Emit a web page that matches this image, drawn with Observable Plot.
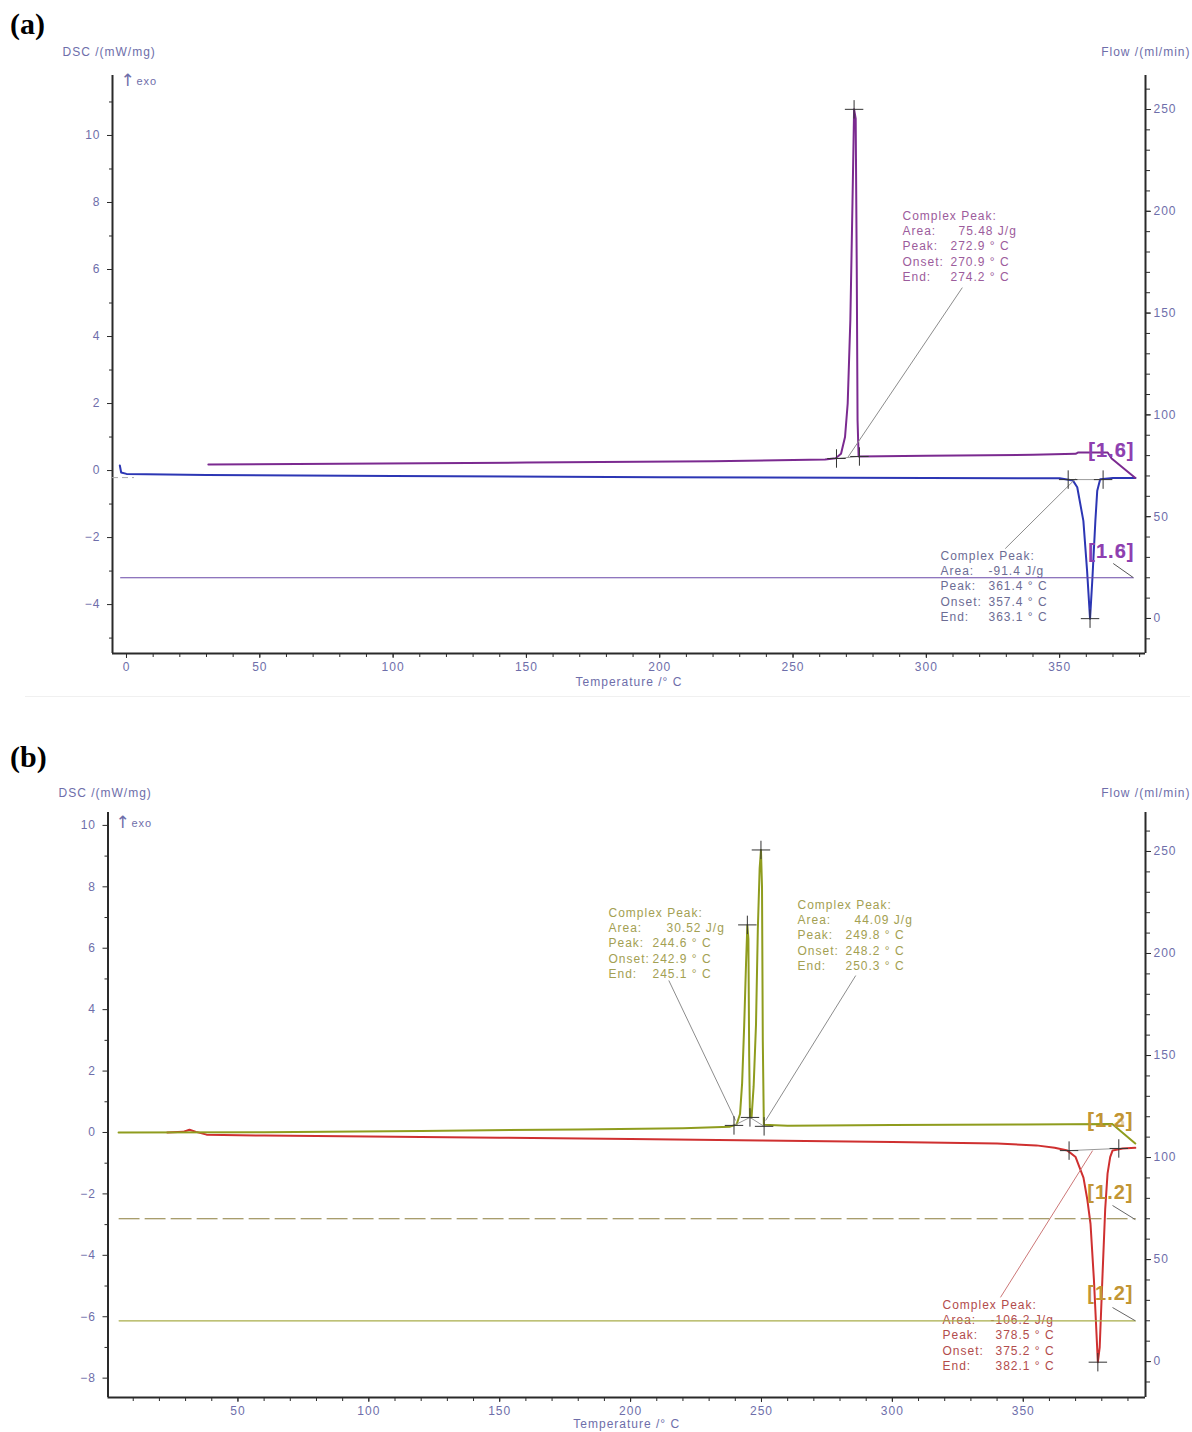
<!DOCTYPE html>
<html><head><meta charset="utf-8">
<script src="https://cdn.jsdelivr.net/npm/d3@7"></script>
<script src="https://cdn.jsdelivr.net/npm/@observablehq/plot@0.6"></script>
<style>
html,body{margin:0;padding:0;background:#fff}
body{width:1192px;height:1432px;position:relative;overflow:hidden;font-family:"Liberation Sans",Arial,sans-serif}
.panel{position:absolute;left:0;width:1192px}
.panel svg{position:absolute;left:0;top:0}
.panel svg text{letter-spacing:1px}
.panel svg g[aria-label="segment"] text{letter-spacing:-0.5px}
.tag{position:absolute;font-family:"Liberation Serif","Times New Roman",serif;font-weight:bold;font-size:30px;line-height:30px}
.sep{position:absolute;left:25px;width:1165px;top:696px;border-top:1px solid #f0f0f0}
</style></head><body>
<div class="tag" style="left:10px;top:9px">(a)</div>
<div class="tag" style="left:10px;top:742px">(b)</div>
<div class="sep"></div>
<div id="pa" class="panel" style="top:0;height:700px"></div>
<div id="pb" class="panel" style="top:700px;height:732px"></div>
<script>
// ================= DATA =================
// ---- panel (a) ----
const aXTicks = [0, 50, 100, 150, 200, 250, 300, 350];
const aYTicks = [-4, -2, 0, 2, 4, 6, 8, 10];
const aFlowTicks = [0, 50, 100, 150, 200, 250];
// exothermic run (purple): [temperature °C, DSC mW/mg]
const aExoCurve = [[30.7,0.18],[80,0.2],[150,0.24],[220,0.28],[262,0.33],[266,0.37],[268,0.5],[269.5,1.0],[270.5,2.0],[271.5,4.5],[272.3,8.0],[272.9,10.78],[273.5,10.5],[273.9,6.0],[274.2,1.5],[274.6,0.42],[300,0.44],[340,0.47],[356,0.5],[357,0.54],[368,0.54],[369.5,0.36],[378.4,-0.22]];
// endothermic run (blue)
const aEndoCurve = [[-2.5,0.15],[-2,-0.06],[0,-0.1],[30,-0.13],[100,-0.16],[200,-0.2],[300,-0.22],[350,-0.23],[355,-0.3],[356.6,-0.5],[358.9,-1.5],[360.3,-3.0],[361.4,-4.42],[362.3,-3.2],[363.4,-1.5],[364.1,-0.6],[365.2,-0.26],[370,-0.22],[378.4,-0.22]];
// purge gas flow (ml/min)
const aFlowCurve = [[-2.2,20],[377.6,20]];
const aExoLimits = [[266.3,0.36],[274.9,0.42]];
const aExoPeak = [[272.9,10.78]];
const aEndoLimits = [[353.2,-0.27],[366.3,-0.27]];
const aEndoPeak = [[361.4,-4.42]];
const noteLabels = ["Complex Peak:", "Area:", "Peak:", "Onset:", "End:"];
const aExoValues = ["75.48 J/g", "272.9 ° C", "270.9 ° C", "274.2 ° C"];
const aEndoValues = ["-91.4 J/g", "361.4 ° C", "357.4 ° C", "363.1 ° C"];
const aSegment = "[1.6]";
const aSegmentGhost = "[1.8]";

// ---- panel (b) ----
const bXTicks = [50, 100, 150, 200, 250, 300, 350];
const bYTicks = [-8, -6, -4, -2, 0, 2, 4, 6, 8, 10];
const bFlowTicks = [0, 50, 100, 150, 200, 250];
const bExoCurve = [[4.4,0.0],[60,0.01],[120,0.05],[180,0.1],[220,0.14],[238,0.19],[240.5,0.26],[241.8,0.6],[242.6,1.6],[243.4,3.5],[244.1,5.5],[244.6,6.75],[245.0,6.3],[245.3,2.5],[245.6,0.5],[246.2,0.48],[247.0,1.5],[247.9,3.5],[248.6,6.6],[249.3,8.6],[249.8,9.2],[250.2,8.0],[250.5,3.0],[250.9,0.25],[260,0.22],[300,0.24],[350,0.26],[384,0.28],[392.8,-0.36]];
const bEndoCurve = [[23,0],[29,0.02],[31.5,0.09],[34,0.02],[38,-0.07],[60,-0.1],[100,-0.13],[150,-0.17],[200,-0.21],[250,-0.26],[300,-0.31],[340,-0.36],[355,-0.42],[362,-0.5],[366.9,-0.59],[370,-0.8],[373,-1.47],[374.5,-2.2],[375.7,-2.98],[377.0,-4.8],[378.5,-7.48],[379.2,-7.0],[380.3,-4.6],[381.3,-2.5],[382.2,-1.34],[383.2,-0.8],[384.1,-0.59],[388,-0.52],[392.8,-0.5]];
const bFlowSolid = [[4.6,20],[392.8,20]];
const bFlowDashed = [[4.6,70],[392.8,70]];
const bExoLimits = [[239.5,0.23],[245.6,0.49],[251,0.2]];
const bExoPeaks = [[244.6,6.76],[249.8,9.2]];
const bEndoLimits = [[367.5,-0.59],[386.5,-0.52]];
const bEndoPeak = [[378.5,-7.48]];
const bPeak1Values = ["30.52 J/g", "244.6 ° C", "242.9 ° C", "245.1 ° C"];
const bPeak2Values = ["44.09 J/g", "249.8 ° C", "248.2 ° C", "250.3 ° C"];
const bEndoValues = ["-106.2 J/g", "378.5 ° C", "375.2 ° C", "382.1 ° C"];
const bSegment = "[1.2]";
const bSegmentGhost = "[1.3]";

// ================= STYLE =================
const FONT = '"Liberation Sans", Arial, sans-serif';
const axisColor = "#2a2a2a";
const tickColor = "#6e6eaa";
const leaderColor = "#8c8c8c";
const baseColor = "#9a9a9a";
const GAP = 15.4;

const X = d => d[0], Y = d => d[1];

function note(values, {x, y, color, vdx, adx}) {
  const marks = [];
  noteLabels.forEach((lab, i) => {
    marks.push(Plot.text([lab], {x: () => x, y: () => y, text: d => d, dy: (i - 2) * GAP, textAnchor: "start", fill: color, fontSize: 12}));
  });
  values.forEach((v, j) => {
    const i = j + 1;
    marks.push(Plot.text([v], {x: () => x, y: () => y, text: d => d, dx: i === 1 ? adx : vdx, dy: (i - 2) * GAP, textAnchor: "start", fill: color, fontSize: 12}));
  });
  return marks;
}
function leader(seg, color) {
  return Plot.link([seg], {x1: d => d[0], y1: d => d[1], x2: d => d[2], y2: d => d[3], stroke: color || leaderColor, strokeWidth: 1});
}
function segLabel(txt, ghost, x, y, color, ghostOpacity) {
  const m = [Plot.text([txt], {x: () => x, y: () => y, text: d => d, fontSize: 20, fontWeight: "bold", fill: color, ariaLabel: "segment"})];
  if (ghost) m.push(Plot.text([ghost], {x: () => x, y: () => y, text: d => d, fontSize: 20, fontWeight: "bold", fill: color, fillOpacity: ghostOpacity, ariaLabel: "segment"}));
  return m;
}
function crosses(data) {
  return Plot.dot(data, {x: X, y: Y, symbol: "plus", r: 6, stroke: "#333", strokeWidth: 1});
}

function buildPanel(el, cfg) {
  const base = {
    width: 1192, height: cfg.height,
    marginTop: cfg.mt, marginBottom: cfg.mb, marginLeft: cfg.ml, marginRight: cfg.mr,
    style: {background: "none", fontFamily: FONT, fontSize: "12px", overflow: "visible"}
  };
  const dsc = Plot.plot({
    ...base,
    x: {domain: cfg.xDomain},
    y: {domain: cfg.yDomain},
    marks: [
      Plot.axisX(cfg.xMinor, {tickSize: 4, fill: "none", stroke: axisColor, label: null}),
      Plot.axisX(cfg.xTicks, {tickSize: 5, tickPadding: 4, stroke: axisColor, fill: tickColor, label: null}),
      Plot.axisY(cfg.yMinor, {tickSize: 3, fill: "none", stroke: axisColor, label: null}),
      Plot.axisY(cfg.yTicks, {tickSize: 5, tickPadding: 7, stroke: axisColor, fill: tickColor, label: null}),
      Plot.ruleX([cfg.xDomain[0], cfg.xDomain[1]], {stroke: axisColor, strokeWidth: 2}),
      Plot.ruleY([cfg.yDomain[0]], {stroke: axisColor, strokeWidth: 2}),
      Plot.text(["DSC /(mW/mg)"], {frameAnchor: "top-left", lineAnchor: "middle", text: d => d, dx: cfg.dscDx, dy: cfg.dscDy, textAnchor: "start", fill: tickColor, fontSize: 12}),
      Plot.text(["↑"], {frameAnchor: "top-left", lineAnchor: "middle", text: d => d, dx: cfg.exoDx, dy: cfg.exoDy, textAnchor: "start", fill: tickColor, fontSize: 17, fontFamily: "DejaVu Sans"}),
      Plot.text(["exo"], {frameAnchor: "top-left", lineAnchor: "middle", text: d => d, dx: cfg.exoDx + 16, dy: cfg.exoDy + 1, textAnchor: "start", fill: tickColor, fontSize: 11}),
      Plot.text(["Flow /(ml/min)"], {frameAnchor: "top-right", lineAnchor: "middle", text: d => d, dx: 45, dy: cfg.dscDy, textAnchor: "end", fill: tickColor, fontSize: 12}),
      Plot.text(["Temperature /° C"], {frameAnchor: "bottom", lineAnchor: "middle", text: d => d, dy: cfg.tempDy, fill: tickColor, fontSize: 12}),
      ...cfg.dscMarks
    ]
  });
  const flow = Plot.plot({
    ...base,
    x: {domain: cfg.xDomain, axis: null},
    y: {domain: cfg.fDomain},
    marks: [
      Plot.axisY(cfg.fMinor, {anchor: "right", tickSize: 4, fill: "none", stroke: axisColor, label: null}),
      Plot.axisY(cfg.fTicks, {anchor: "right", tickSize: 5, tickPadding: 3, stroke: axisColor, fill: tickColor, label: null}),
      ...cfg.flowMarks
    ]
  });
  el.appendChild(dsc);
  el.appendChild(flow);
}

// ---------- panel (a) ----------
const purple = "#7b2a90", blue = "#2c36b4", aFlowColor = "#6a48a8", aExoText = "#9c5c9c", aEndoText = "#6c6c94", bracketA = "#8e3fb0";
buildPanel(document.getElementById("pa"), {
  height: 700, mt: 75, mb: 47, ml: 112, mr: 47,
  xDomain: [-5.25, 382.2], yDomain: [-5.46, 11.79], fDomain: [-17.2, 266.7],
  xTicks: aXTicks, xMinor: d3.range(0, 381, 10),
  yTicks: aYTicks, yMinor: d3.range(-5, 12, 2),
  fTicks: aFlowTicks, fMinor: d3.range(-10, 261, 10),
  dscDx: -50, dscDy: -23, exoDx: 8, exoDy: 5, tempDy: 29,
  dscMarks: [
    Plot.ruleY([-0.21], {x1: -5.25, x2: 3, stroke: "#aaa", strokeDasharray: "6,4"}),
    Plot.line(aEndoCurve, {x: X, y: Y, stroke: blue, strokeWidth: 2}),
    Plot.line(aExoCurve, {x: X, y: Y, stroke: purple, strokeWidth: 2}),
    Plot.line(aExoLimits, {x: X, y: Y, stroke: baseColor, strokeWidth: 1}),
    Plot.line(aEndoLimits, {x: X, y: Y, stroke: baseColor, strokeWidth: 1}),
    leader([313.5, 5.46, 270.6, 0.4]),
    leader([329.6, -2.33, 355.9, -0.25]),
    crosses(aExoLimits), crosses(aExoPeak), crosses(aEndoLimits), crosses(aEndoPeak),
    ...note(aExoValues, {x: 291.05, y: 6.687, color: aExoText, vdx: 48, adx: 56}),
    ...note(aEndoValues, {x: 305.3, y: -3.46, color: aEndoText, vdx: 48, adx: 48}),
    ...segLabel(aSegment, aSegmentGhost, 369.4, 0.6, bracketA, 0.5)
  ],
  flowMarks: [
    Plot.line(aFlowCurve, {x: X, y: Y, stroke: aFlowColor, strokeWidth: 1.2}),
    leader([370.1, 27, 377.6, 20.1], "#555"),
    ...segLabel(aSegment, aSegmentGhost, 369.4, 32.9, bracketA, 0.5)
  ]
});

// ---------- panel (b) ----------
const olive = "#8f9c1e", red = "#cf3030", bFlowSolidColor = "#a9ad4a", bFlowDashColor = "#8c7e3c", bGreenText = "#a3a052", bRedText = "#b24c4c", bracketB = "#c29534";
buildPanel(document.getElementById("pb"), {
  height: 732, mt: 112, mb: 35, ml: 107.5, mr: 47,
  xDomain: [0.36, 396.7], yDomain: [-8.63, 10.42], fDomain: [-17.6, 269.1],
  xTicks: bXTicks, xMinor: d3.range(10, 391, 10),
  yTicks: bYTicks, yMinor: d3.range(-7, 10, 2),
  fTicks: bFlowTicks, fMinor: d3.range(-10, 261, 10),
  dscDx: -49.5, dscDy: -19, exoDx: 7.5, exoDy: 10, tempDy: 27,
  dscMarks: [
    Plot.line(bEndoCurve, {x: X, y: Y, stroke: red, strokeWidth: 2}),
    Plot.line(bExoCurve, {x: X, y: Y, stroke: olive, strokeWidth: 2}),
    Plot.line(bExoLimits, {x: X, y: Y, stroke: baseColor, strokeWidth: 1}),
    Plot.line(bEndoLimits, {x: X, y: Y, stroke: baseColor, strokeWidth: 1}),
    leader([214.6, 4.95, 240.1, 0.39]),
    leader([286.0, 5.11, 251.6, 0.39]),
    leader([341.3, -5.37, 376.5, -0.59], "#c77"),
    crosses(bExoLimits), crosses(bExoPeaks), crosses(bEndoLimits), crosses(bEndoPeak),
    ...note(bPeak1Values, {x: 191.56, y: 6.154, color: bGreenText, vdx: 44, adx: 58}),
    ...note(bPeak2Values, {x: 263.76, y: 6.415, color: bGreenText, vdx: 48, adx: 57}),
    ...note(bEndoValues, {x: 319.15, y: -6.61, color: bRedText, vdx: 53, adx: 48}),
    ...segLabel(bSegment, bSegmentGhost, 383.3, 0.39, bracketB, 0.45)
  ],
  flowMarks: [
    Plot.line(bFlowDashed, {x: X, y: Y, stroke: bFlowDashColor, strokeWidth: 1.2, strokeDasharray: "20,6"}),
    Plot.line(bFlowSolid, {x: X, y: Y, stroke: bFlowSolidColor, strokeWidth: 1.2}),
    leader([384.1, 76.5, 392.8, 69.6], "#666"),
    leader([384.1, 26.5, 392.8, 20], "#666"),
    ...segLabel(bSegment, null, 383.3, 82.8, bracketB, 0),
    ...segLabel(bSegment, null, 383.3, 33.3, bracketB, 0)
  ]
});
</script>
</body></html>
